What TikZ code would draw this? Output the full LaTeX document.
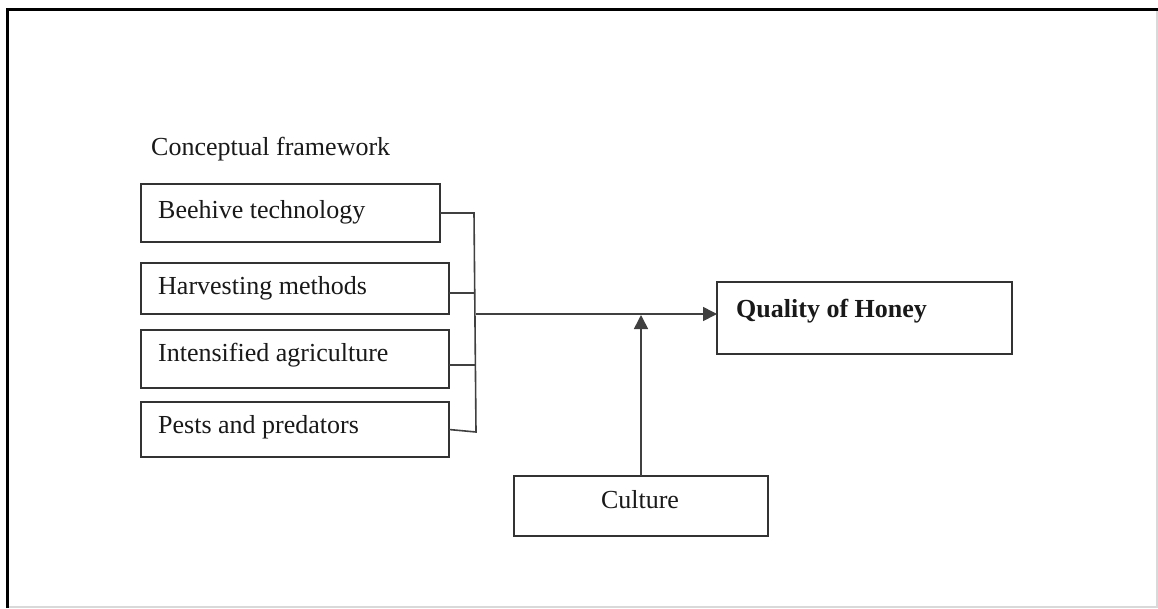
\documentclass[tikz,border=0pt]{standalone}
\usepackage{fontspec}
\setmainfont{Liberation Serif}
\usetikzlibrary{arrows.meta}
\begin{document}
\begin{tikzpicture}[x=1pt,y=-1pt,
  box/.style={draw=black!80, line width=1.6pt, rectangle, inner sep=0pt, outer sep=0pt},
  lbl/.style={anchor=base west, inner sep=0pt, font=\fontsize{26}{30}\selectfont, text=black!90},
  conn/.style={draw=black!75, line width=1.6pt},
  arr/.style={conn, -{Triangle[length=14pt,width=14pt]}}]
\useasboundingbox (0,0) rectangle (1158,608);
\fill[white] (0,0) rectangle (1158,608);
% frame
\draw[black!15, line width=2pt] (1157,9) -- (1157,606.5) -- (7.5,606.5);
\draw[black, line width=3pt] (7.5,608) -- (7.5,9) -- (1158,9);
% title
\node[lbl] (title) at (151,155) {Conceptual framework};
% boxes
\node[box, minimum width=299, minimum height=58] (b1) at (290.5,213) {};
\node[box, minimum width=308, minimum height=51] (b2) at (295,288.5) {};
\node[box, minimum width=308, minimum height=58] (b3) at (295,359) {};
\node[box, minimum width=308, minimum height=55] (b4) at (295,429.5) {};
\node[box, minimum width=295, minimum height=72] (q) at (864.5,318) {};
\node[box, minimum width=254, minimum height=60] (c) at (641,506) {};
% labels
\node[lbl] (t1) at (158,218) {Beehive technology};
\node[lbl] (t2) at (158,294) {Harvesting methods};
\node[lbl] (t3) at (158,361) {Intensified agriculture};
\node[lbl] (t4) at (158,433) {Pests and predators};
\node[lbl, font=\fontsize{26}{30}\selectfont\bfseries] (tq) at (736,317) {Quality of Honey};
\node[lbl, anchor=base] (tc) at (640,508) {Culture};
% bracket
\coordinate (jt) at (474,213);
\coordinate (jb) at (476,432);
\coordinate (jm) at (476,314);
\draw[conn] (b1.east) -- (jt) -- (jb) -- (b4.east);
\draw[conn] ([yshift=-4.5pt]b2.east) -- ([yshift=-4.5pt]b2.east -| jt);
\draw[conn] ([yshift=-6pt]b3.east) -- ([yshift=-6pt]b3.east -| jb);
\draw[arr] (jm) -- (jm -| q.west);
\coordinate (cm) at (641,315);
\draw[arr] (c.north) -- (cm);
\end{tikzpicture}
\end{document}
